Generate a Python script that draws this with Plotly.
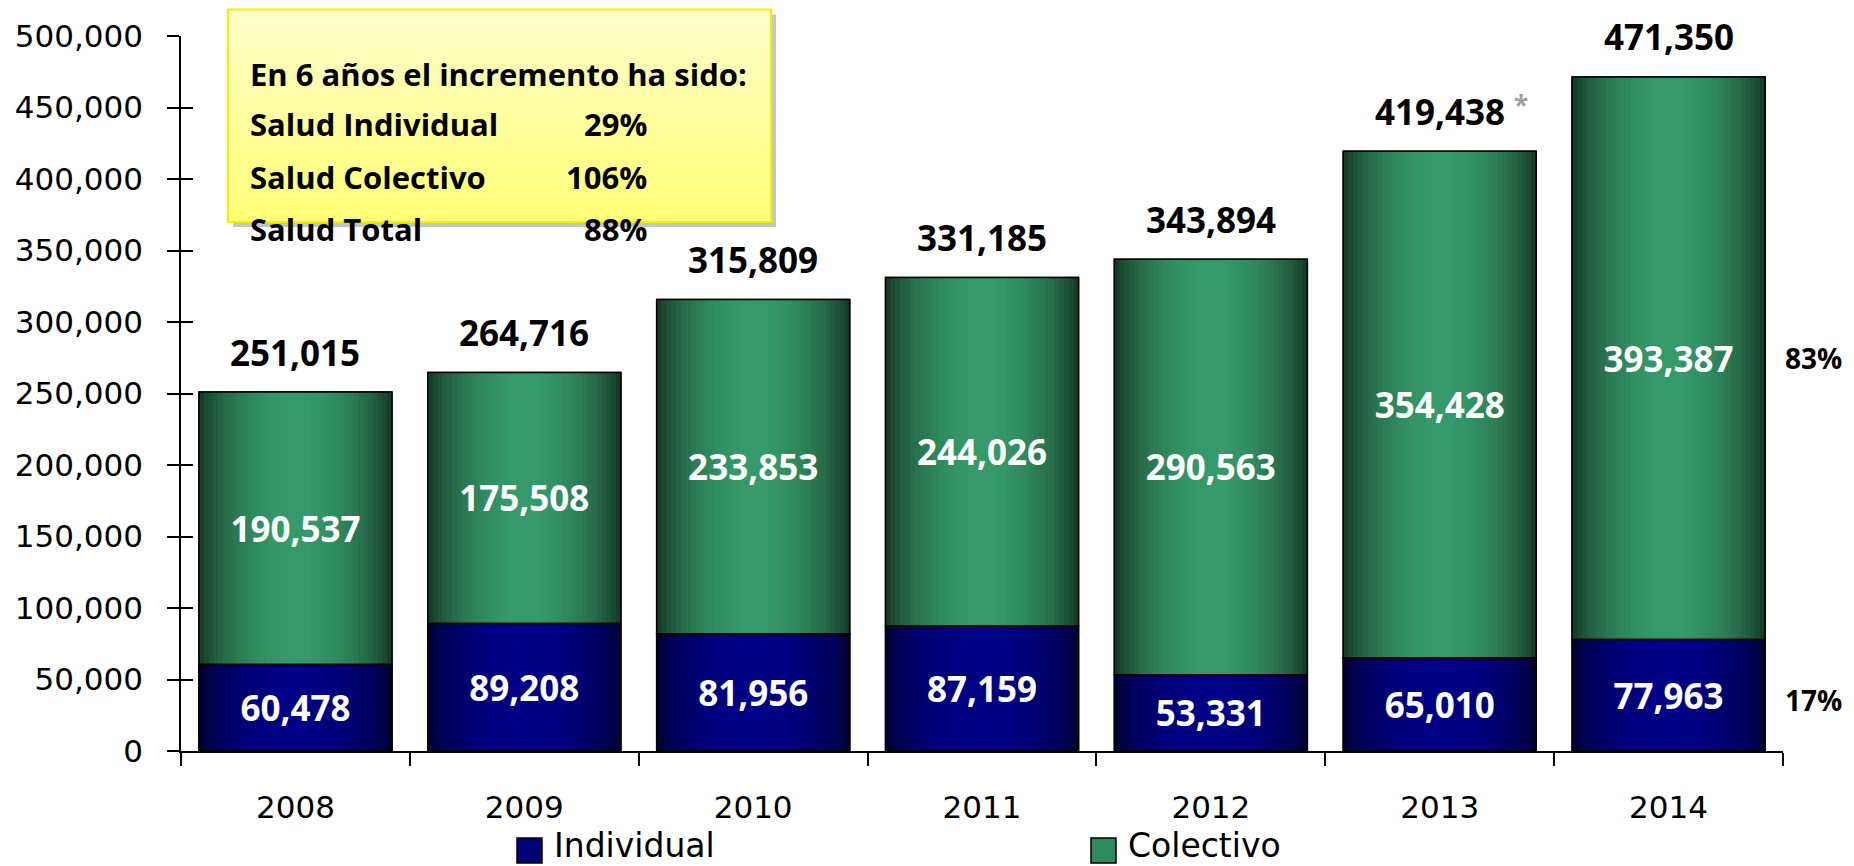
import numpy as np
import plotly.graph_objects as go

# ---------------- data ----------------
years = ['2008', '2009', '2010', '2011', '2012', '2013', '2014']
individual = [60478, 89208, 81956, 87159, 53331, 65010, 77963]
colectivo = [190537, 175508, 233853, 244026, 290563, 354428, 393387]
totals = [251015, 264716, 315809, 331185, 343894, 419438, 471350]
total_marks = ['', '', '', '', '', '*', '']
last_share_individual = '17%'
last_share_colectivo = '83%'
series_names = ['Individual', 'Colectivo']
box_title = 'En 6 años el incremento ha sido:'
box_rows = ['Salud Individual', 'Salud Colectivo', 'Salud Total']
box_pcts = ['29%', '106%', '88%']
y_tickvals = [0, 50000, 100000, 150000, 200000, 250000, 300000, 350000, 400000, 450000, 500000]

# ---------------- layout geometry ----------------
W, H = 1854, 866
PAD = 8                      # page body margin
ML, MR, MT, MB = 173, 79, 28, 123
PW, PH = W - ML - MR, H - MT - MB


def px(wx):   # window pixel x -> paper x
    return (wx - PAD - ML) / PW


def py(wy):   # window pixel y -> paper y
    return (H - MB - (wy - PAD)) / PH


# ---------------- style ----------------
FONT_B = 'Open Sans'
FONT_R = 'DejaVu Sans'
BW = 0.843
NSTRIP = 40
GREEN_DARK, GREEN_BRIGHT = (20, 50, 34), (53, 154, 107)
BLUE_DARK, BLUE_BRIGHT = (0, 0, 26), (0, 0, 134)


def grad(dark, bright, t, power):
    f = np.sin(np.pi * t) ** power
    return 'rgb(%d,%d,%d)' % tuple(int(round(d + (b - d) * f)) for d, b in zip(dark, bright))


fig = go.Figure()

# solid base
fig.add_trace(go.Bar(x=years, y=individual, name=series_names[0], width=BW, offset=-BW / 2,
                     marker=dict(color='#000080', line=dict(color='black', width=1.5)),
                     hoverinfo='skip', showlegend=False))
fig.add_trace(go.Bar(x=years, y=colectivo, base=individual, name=series_names[1], width=BW, offset=-BW / 2,
                     marker=dict(color='#2f8a5f', line=dict(color='black', width=1.5)),
                     hoverinfo='skip', showlegend=False))

# gradient strips
sw = BW / NSTRIP
for i in range(NSTRIP):
    t = (i + 0.5) / NSTRIP
    off = -BW / 2 + i * sw
    fig.add_trace(go.Bar(x=years, y=individual, width=sw * 1.15, offset=off,
                         marker=dict(color=grad(BLUE_DARK, BLUE_BRIGHT, t, 0.45), line=dict(width=0)),
                         showlegend=False, hoverinfo='skip'))
    fig.add_trace(go.Bar(x=years, y=colectivo, base=individual, width=sw * 1.15, offset=off,
                         marker=dict(color=grad(GREEN_DARK, GREEN_BRIGHT, t, 0.7), line=dict(width=0)),
                         showlegend=False, hoverinfo='skip'))

# outlines with value labels
for vals, base in ((individual, None), (colectivo, individual)):
    fig.add_trace(go.Bar(x=years, y=vals, base=base, width=BW, offset=-BW / 2,
                         marker=dict(color='rgba(0,0,0,0)', line=dict(color='black', width=1.5)),
                         text=[f'{v:,}' for v in vals], textposition='inside',
                         insidetextanchor='middle', constraintext='none',
                         textfont=dict(family=FONT_B, size=35, color='white', weight='bold'),
                         showlegend=False, hoverinfo='skip'))

# invisible trace that activates the second (inside-tick) y axis
fig.add_trace(go.Scatter(x=[years[0]], y=[0], yaxis='y2', mode='markers',
                         marker=dict(opacity=0), showlegend=False, hoverinfo='skip'))

annotations = []
for i, (tot, mark) in enumerate(zip(totals, total_marks)):
    annotations.append(dict(x=i, y=tot, xref='x', yref='y', text=f'{tot:,}', showarrow=False,
                            yshift=40, font=dict(family=FONT_B, size=35, color='black', weight='bold')))
    if mark:
        annotations.append(dict(x=i, y=tot, xref='x', yref='y', text=mark, showarrow=False,
                                xanchor='left', xshift=72, yshift=46,
                                font=dict(family=FONT_B, size=26, color='#a0a0a0', weight='bold')))

annotations.append(dict(x=1.0, xref='paper', y=individual[-1] + colectivo[-1] / 2, yref='y',
                        text=last_share_colectivo, showarrow=False, xanchor='left', xshift=0,
                        font=dict(family=FONT_B, size=28, color='black', weight='bold')))
annotations.append(dict(x=1.0, xref='paper', y=individual[-1] / 2, yref='y', yshift=-5,
                        text=last_share_individual, showarrow=False, xanchor='left', xshift=0,
                        font=dict(family=FONT_B, size=28, color='black', weight='bold')))

# ---------------- info box ----------------
bx0, bx1, by0, by1 = px(228), px(771), py(222), py(9.5)
shapes = [
    dict(type='rect', xref='paper', yref='paper', x0=bx0 + 5 / PW, x1=bx1 + 5 / PW,
         y0=by0 - 5 / PH, y1=by1 - 5 / PH, fillcolor='rgba(140,140,140,0.5)', line=dict(width=0), layer='above'),
]
nb = 12
for k in range(nb):
    ya = by0 + (by1 - by0) * k / nb
    yb = by0 + (by1 - by0) * (k + 1) / nb + 0.002
    s = k / (nb - 1)
    b = int(round(120 + (200 - 120) * s))
    shapes.append(dict(type='rect', xref='paper', yref='paper', x0=bx0, x1=bx1, y0=ya, y1=min(yb, by1),
                       fillcolor=f'rgb(255,255,{b})', line=dict(width=0), layer='above'))
shapes.append(dict(type='rect', xref='paper', yref='paper', x0=bx0, x1=bx1, y0=by0, y1=by1,
                   fillcolor='rgba(0,0,0,0)', line=dict(color='#f2f200', width=2), layer='above'))

BOX_FONT = dict(family=FONT_B, size=31, color='black', weight='bold')
annotations.append(dict(x=px(248), y=py(51), xref='paper', yref='paper', xanchor='left', text=box_title,
                        showarrow=False, font=BOX_FONT))
for lab, pct, wy in zip(box_rows, box_pcts, [100.5, 153.7, 205.7]):
    annotations.append(dict(x=px(248), y=py(wy), xref='paper', yref='paper', xanchor='left', text=lab,
                            showarrow=False, font=BOX_FONT))
    annotations.append(dict(x=px(649), y=py(wy), xref='paper', yref='paper', xanchor='right', text=pct,
                            showarrow=False, font=BOX_FONT))

# ---------------- legend (drawn manually) ----------------
leg_sq_left = [517, 1091]
leg_colors = ['#000078', '#2f8a5f']
for name, lx, col in zip(series_names, leg_sq_left, leg_colors):
    shapes.append(dict(type='rect', xref='paper', yref='paper', x0=px(lx), x1=px(lx + 25),
                       y0=py(863), y1=py(838), fillcolor=col, line=dict(color='black', width=1.5),
                       layer='above'))
    annotations.append(dict(x=px(lx + 36), y=py(866), xref='paper', yref='paper', xanchor='left',
                            yanchor='bottom', text=name, showarrow=False, borderpad=0,
                            font=dict(family=FONT_R, size=33, color='black')))

fig.update_layout(
    width=W, height=H,
    margin=dict(l=ML, r=MR, t=MT, b=MB, autoexpand=False),
    paper_bgcolor='white', plot_bgcolor='white',
    barmode='overlay',
    font=dict(family=FONT_R, color='black'),
    showlegend=False,
    xaxis=dict(type='category', categoryorder='array', categoryarray=years,
               range=[-0.5, len(years) - 0.5], showline=True, linecolor='black', linewidth=2,
               ticks='outside', tickson='boundaries', ticklen=13, tickwidth=1.5, tickcolor='black',
               tickfont=dict(family=FONT_R, size=31, color='black'), ticklabelstandoff=28,
               tickangle=0, showgrid=False, zeroline=False, fixedrange=True),
    yaxis=dict(range=[0, 500000], tickvals=y_tickvals, tickformat=',d', showline=True,
               linecolor='black', linewidth=1.5, ticks='outside', ticklen=12, tickwidth=1.5,
               tickcolor='black', tickfont=dict(family=FONT_R, size=31, color='black'),
               ticklabelstandoff=18, showgrid=False, zeroline=False, fixedrange=True),
    yaxis2=dict(range=[0, 500000], tickvals=y_tickvals, overlaying='y', side='left', anchor='x',
                showline=False, ticks='inside', ticklen=12, tickwidth=1.5, tickcolor='black',
                showticklabels=False, showgrid=False, zeroline=False, fixedrange=True),
    annotations=annotations,
    shapes=shapes,
)

fig.write_html('out.html', config={'displayModeBar': False})
